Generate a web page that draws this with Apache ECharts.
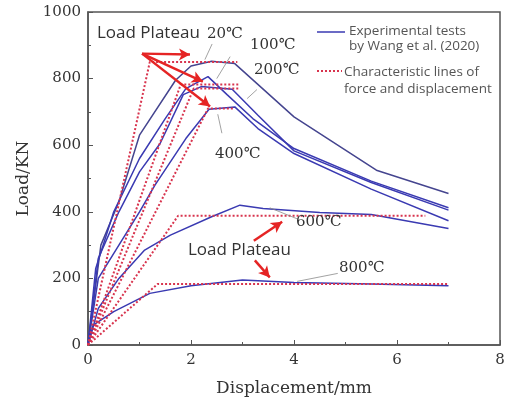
<!DOCTYPE html>
<html>
<head>
<meta charset="utf-8">
<script src="https://cdn.jsdelivr.net/npm/echarts@6/dist/echarts.min.js"></script>
<style>html,body{margin:0;padding:0;background:#fff}#c{width:508px;height:406px}</style>
</head>
<body>
<div id="c"></div>
<script>
// ---- Data (displacement mm, load kN) ----
const temps = ['20℃', '100℃', '200℃', '400℃', '600℃', '800℃'];
// Experimental tests (Wang et al. 2020)
const exp20 = [[0,0],[0.25,300],[0.6,430],[1.0,630],[1.7,795],[2.0,838],[2.4,852],[2.85,845],[4.0,685],[5.6,525],[7.0,455]];
const exp100 = [[0,0],[0.15,230],[0.5,400],[1.0,560],[1.5,680],[1.9,770],[2.33,806],[2.7,752],[3.2,680],[4.0,590],[5.5,492],[7.0,412]];
const exp200 = [[0,0],[0.2,260],[0.6,400],[1.0,520],[1.4,605],[1.85,752],[2.2,776],[2.8,768],[3.3,690],[4.0,583],[5.5,488],[7.0,405]];
const exp400 = [[0,0],[0.2,200],[0.6,300],[1.0,400],[1.3,480],[1.9,620],[2.35,708],[2.85,715],[3.3,650],[4.0,575],[5.5,468],[7.0,373]];
const exp600 = [[0,0],[0.2,110],[0.6,200],[1.1,285],[1.6,330],[2.4,385],[2.95,420],[3.4,410],[4.5,398],[5.5,392],[7.0,350]];
const exp800 = [[0,0],[0.1,60],[0.5,100],[1.2,155],[2.0,178],[3.0,195],[4.0,188],[5.5,183],[7.0,178]];
// Characteristic lines of force and displacement
const char20 = [[0,0],[1.2,850],[2.9,850]];
const char100 = [[0,0],[1.8,782],[2.95,782]];
const char200 = [[0,0],[2.05,770],[2.95,770]];
const char400 = [[0,0],[2.33,710],[2.85,710]];
const char600 = [[0,0],[1.75,388],[6.55,388]];
const char800 = [[0,0],[1.35,183],[7.0,183]];
// Annotation arrows (data coords: tail -> head)
const arrows = [
  [[1.05,875],[1.98,872]],
  [[1.05,875],[2.23,791]],
  [[1.05,875],[2.37,716]],
  [[3.22,313],[3.77,370]],
  [[3.24,254],[3.53,203]]
];
// Leader lines from temperature labels to curves
const leaders = [
  [[2.41,904],[2.27,857]],
  [[2.76,866],[2.5,800]],
  [[3.28,767],[3.09,740]],
  [[2.52,693],[2.6,636]],
  [[3.53,412],[4.06,379]],
  [[4.06,191],[4.85,215]]
];

const chart = echarts.init(document.getElementById('c'), null, {renderer: 'canvas'});
const blue = '#3a3ab2';
const red = '#d8344e';
const serif = '"DejaVu Serif", "Liberation Serif", serif';
const sans = '"Open Sans", "Noto Sans", sans-serif';

const expSets = [exp20, exp100, exp200, exp400, exp600, exp800];
const charSets = [char20, char100, char200, char400, char600, char800];

const series = [];
expSets.forEach((d, i) => series.push({
  name: 'Experimental tests ' + temps[i], type: 'line', data: d, showSymbol: false, symbol: 'none',
  lineStyle: {color: i === 0 ? '#45458f' : blue, width: 1.5}, z: 2, silent: true
}));
charSets.forEach((d, i) => series.push({
  name: 'Characteristic ' + temps[i], type: 'line', data: d, showSymbol: false, symbol: 'none',
  lineStyle: {color: red, width: 2, type: [2, 2]}, z: 3, silent: true
}));
series.push({
  name: 'annotations', type: 'line', data: [], silent: true, z: 5,
  markLine: {
    silent: true, animation: false,
    symbol: ['none', 'arrow'], symbolSize: [9, 11],
    label: {show: false},
    lineStyle: {color: '#e52424', width: 2.5, type: 'solid'},
    data: arrows.map(a => [{coord: a[0]}, {coord: a[1]}])
  }
});
series.push({
  name: 'leaders', type: 'line', data: [], silent: true, z: 4,
  markLine: {
    silent: true, animation: false,
    symbol: ['none', 'none'],
    label: {show: false},
    lineStyle: {color: '#8a8a8a', width: 0.8, type: 'solid'},
    data: leaders.map(a => [{coord: a[0]}, {coord: a[1]}])
  }
});

function txt(text, x, y, font, fill) {
  return {type: 'text', x: x, y: y, z: 10, silent: true,
    style: {text: text, font: font, fill: fill || '#333', verticalAlign: 'middle', align: 'left'}};
}

const option = {
  backgroundColor: '#fff',
  animation: false,
  grid: {left: 88, right: 8, top: 12, bottom: 61, show: true, borderColor: '#555', borderWidth: 1.5, backgroundColor: 'transparent'},
  xAxis: {
    type: 'value', min: 0, max: 8, interval: 2,
    name: 'Displacement/mm', nameLocation: 'middle', nameGap: 35,
    nameTextStyle: {fontFamily: serif, fontSize: 17, color: '#333'},
    axisLine: {show: true, lineStyle: {color: '#555', width: 1.5}},
    axisTick: {show: true, inside: true, length: 5, lineStyle: {color: '#555'}},
    minorTick: {show: true, splitNumber: 2, length: 3, lineStyle: {color: '#555'}},
    axisLabel: {fontFamily: serif, fontSize: 15, color: '#333', margin: 8},
    splitLine: {show: false}
  },
  yAxis: {
    type: 'value', min: 0, max: 1000, interval: 200,
    name: 'Load/KN', nameLocation: 'middle', nameGap: 46, nameRotate: 90,
    nameTextStyle: {fontFamily: serif, fontSize: 17, color: '#333'},
    axisLine: {show: true, lineStyle: {color: '#555', width: 1.5}},
    axisTick: {show: true, inside: true, length: 5, lineStyle: {color: '#555'}},
    minorTick: {show: true, splitNumber: 2, length: 3, lineStyle: {color: '#555'}},
    axisLabel: {fontFamily: serif, fontSize: 15, color: '#333', margin: 7, formatter: v => String(v)},
    splitLine: {show: false}
  },
  series: series,
  graphic: [
    txt('Load Plateau', 97, 33, '17px ' + sans, '#333'),
    txt('Load Plateau', 188, 250, '17px ' + sans, '#333'),
    txt('20℃', 207, 34, '15px ' + serif, '#333'),
    txt('100℃', 250, 45, '15px ' + serif, '#333'),
    txt('200℃', 254, 70, '15px ' + serif, '#333'),
    txt('400℃', 215, 154, '15px ' + serif, '#333'),
    txt('600℃', 296, 222, '15px ' + serif, '#333'),
    txt('800℃', 339, 268, '15px ' + serif, '#333'),
    // legend
    {type: 'line', z: 10, silent: true, shape: {x1: 317, y1: 32, x2: 345, y2: 32}, style: {stroke: blue, lineWidth: 1.5}},
    txt('Experimental tests', 349, 31, '13.5px ' + sans, '#555'),
    txt('by Wang et al. (2020)', 349, 46, '13.5px ' + sans, '#555'),
    {type: 'line', z: 10, silent: true, shape: {x1: 317, y1: 71, x2: 342, y2: 71}, style: {stroke: red, lineWidth: 2, lineDash: [2, 2]}},
    txt('Characteristic lines of', 344, 72, '13.5px ' + sans, '#555'),
    txt('force and displacement', 344, 89, '13.5px ' + sans, '#555')
  ]
};
chart.setOption(option);
</script>
</body>
</html>
